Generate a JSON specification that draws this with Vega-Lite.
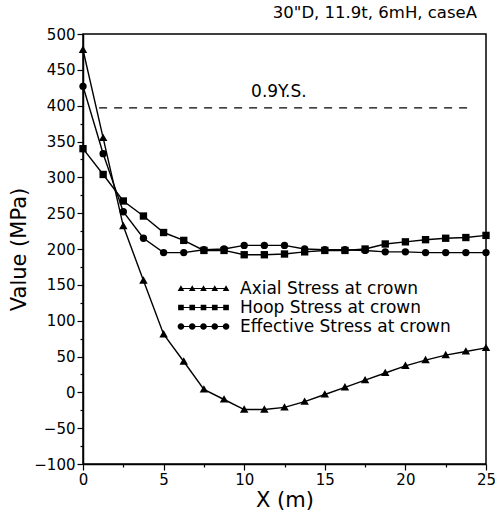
{
  "$schema": "https://vega.github.io/schema/vega-lite/v6.json",
  "width": 403,
  "height": 430,
  "autosize": {"type": "none"},
  "padding": {"left": 83, "top": 34, "right": 9, "bottom": 46},
  "background": "white",
  "config": {
    "view": {"stroke": "black", "strokeWidth": 1.5},
    "font": "DejaVu Sans",
    "title": {"dx": -9}
  },
  "title": {
    "text": "30\"D, 11.9t, 6mH, caseA",
    "anchor": "end",
    "frame": "group",
    "fontSize": 16.5,
    "fontWeight": "normal",
    "color": "black",
    "offset": 6,
    "dx": -9
  },
  "resolve": {"scale": {"shape": "independent"}},
  "datasets": {
    "main": [
      {"x": 0, "series": "Axial Stress at crown", "value": 478},
      {"x": 1.25, "series": "Axial Stress at crown", "value": 355},
      {"x": 2.5, "series": "Axial Stress at crown", "value": 232},
      {"x": 3.75, "series": "Axial Stress at crown", "value": 156},
      {"x": 5, "series": "Axial Stress at crown", "value": 81},
      {"x": 6.25, "series": "Axial Stress at crown", "value": 43},
      {"x": 7.5, "series": "Axial Stress at crown", "value": 4},
      {"x": 8.75, "series": "Axial Stress at crown", "value": -10},
      {"x": 10, "series": "Axial Stress at crown", "value": -24},
      {"x": 11.25, "series": "Axial Stress at crown", "value": -24},
      {"x": 12.5, "series": "Axial Stress at crown", "value": -21},
      {"x": 13.75, "series": "Axial Stress at crown", "value": -13},
      {"x": 15, "series": "Axial Stress at crown", "value": -3},
      {"x": 16.25, "series": "Axial Stress at crown", "value": 7},
      {"x": 17.5, "series": "Axial Stress at crown", "value": 17},
      {"x": 18.75, "series": "Axial Stress at crown", "value": 27},
      {"x": 20, "series": "Axial Stress at crown", "value": 37},
      {"x": 21.25, "series": "Axial Stress at crown", "value": 45},
      {"x": 22.5, "series": "Axial Stress at crown", "value": 52},
      {"x": 23.75, "series": "Axial Stress at crown", "value": 57},
      {"x": 25, "series": "Axial Stress at crown", "value": 62},
      {"x": 0, "series": "Hoop Stress at crown", "value": 340},
      {"x": 1.25, "series": "Hoop Stress at crown", "value": 304},
      {"x": 2.5, "series": "Hoop Stress at crown", "value": 267},
      {"x": 3.75, "series": "Hoop Stress at crown", "value": 246},
      {"x": 5, "series": "Hoop Stress at crown", "value": 223},
      {"x": 6.25, "series": "Hoop Stress at crown", "value": 212},
      {"x": 7.5, "series": "Hoop Stress at crown", "value": 198},
      {"x": 8.75, "series": "Hoop Stress at crown", "value": 198},
      {"x": 10, "series": "Hoop Stress at crown", "value": 192},
      {"x": 11.25, "series": "Hoop Stress at crown", "value": 192},
      {"x": 12.5, "series": "Hoop Stress at crown", "value": 193},
      {"x": 13.75, "series": "Hoop Stress at crown", "value": 196},
      {"x": 15, "series": "Hoop Stress at crown", "value": 198},
      {"x": 16.25, "series": "Hoop Stress at crown", "value": 198},
      {"x": 17.5, "series": "Hoop Stress at crown", "value": 200},
      {"x": 18.75, "series": "Hoop Stress at crown", "value": 207},
      {"x": 20, "series": "Hoop Stress at crown", "value": 210},
      {"x": 21.25, "series": "Hoop Stress at crown", "value": 213},
      {"x": 22.5, "series": "Hoop Stress at crown", "value": 215},
      {"x": 23.75, "series": "Hoop Stress at crown", "value": 216},
      {"x": 25, "series": "Hoop Stress at crown", "value": 219},
      {"x": 0, "series": "Effective Stress at crown", "value": 427},
      {"x": 1.25, "series": "Effective Stress at crown", "value": 333},
      {"x": 2.5, "series": "Effective Stress at crown", "value": 252},
      {"x": 3.75, "series": "Effective Stress at crown", "value": 215},
      {"x": 5, "series": "Effective Stress at crown", "value": 195},
      {"x": 6.25, "series": "Effective Stress at crown", "value": 195},
      {"x": 7.5, "series": "Effective Stress at crown", "value": 199},
      {"x": 8.75, "series": "Effective Stress at crown", "value": 200},
      {"x": 10, "series": "Effective Stress at crown", "value": 205},
      {"x": 11.25, "series": "Effective Stress at crown", "value": 205},
      {"x": 12.5, "series": "Effective Stress at crown", "value": 205},
      {"x": 13.75, "series": "Effective Stress at crown", "value": 200},
      {"x": 15, "series": "Effective Stress at crown", "value": 199},
      {"x": 16.25, "series": "Effective Stress at crown", "value": 199},
      {"x": 17.5, "series": "Effective Stress at crown", "value": 198},
      {"x": 18.75, "series": "Effective Stress at crown", "value": 196},
      {"x": 20, "series": "Effective Stress at crown", "value": 196},
      {"x": 21.25, "series": "Effective Stress at crown", "value": 195},
      {"x": 22.5, "series": "Effective Stress at crown", "value": 195},
      {"x": 23.75, "series": "Effective Stress at crown", "value": 195},
      {"x": 25, "series": "Effective Stress at crown", "value": 195}
    ],
    "limit": [{"x": 1, "x2": 24.2, "value": 397, "label": "0.9Y.S.", "lx": 12.15, "ly": 419}]
  },
  "encoding": {
    "x": {
      "field": "x",
      "type": "quantitative",
      "scale": {"domain": [0, 25], "nice": false, "zero": false},
      "axis": {
        "values": [0, 2.5, 5, 7.5, 10, 12.5, 15, 17.5, 20, 22.5, 25],
        "labelExpr": "datum.value % 5 === 0 ? datum.label : ''",
        "tickSize": {"condition": {"test": "datum.value % 5 === 0", "value": 6}, "value": 3},
        "labelFlush": false,
        "grid": false,
        "domainColor": "black",
        "domainWidth": 1.5,
        "tickColor": "black",
        "tickWidth": 1.2,
        "labelColor": "black",
        "labelFontSize": 15,
        "labelPadding": 2,
        "title": "X (m)",
        "titleColor": "black",
        "titleFontSize": 21,
        "titleFontWeight": "normal",
        "titlePadding": 2
      }
    },
    "y": {
      "field": "value",
      "type": "quantitative",
      "scale": {"domain": [-100, 500], "nice": false, "zero": false},
      "axis": {
        "values": [-100, -75, -50, -25, 0, 25, 50, 75, 100, 125, 150, 175, 200, 225, 250, 275, 300, 325, 350, 375, 400, 425, 450, 475, 500],
        "labelExpr": "datum.value % 50 === 0 ? datum.label : ''",
        "tickSize": {"condition": {"test": "datum.value % 50 === 0", "value": 6}, "value": 3},
        "grid": false,
        "domainColor": "black",
        "domainWidth": 1.5,
        "tickColor": "black",
        "tickWidth": 1.2,
        "labelColor": "black",
        "labelFontSize": 15,
        "labelPadding": 2,
        "title": "Value (MPa)",
        "titleColor": "black",
        "titleFontSize": 21,
        "titleFontWeight": "normal",
        "titlePadding": 4
      }
    }
  },
  "layer": [
    {
      "data": {"name": "main"},
      "mark": {"type": "line", "color": "black", "strokeWidth": 1.4},
      "encoding": {"detail": {"field": "series", "type": "nominal"}}
    },
    {
      "data": {"name": "main"},
      "mark": {"type": "point", "filled": true, "color": "black", "opacity": 1, "size": 54},
      "encoding": {
        "shape": {
          "field": "series",
          "type": "nominal",
          "scale": {
            "domain": ["Axial Stress at crown", "Hoop Stress at crown", "Effective Stress at crown"],
            "range": ["M-1.15,0.85L1.15,0.85L0,-1.15Z", "square", "circle"]
          },
          "legend": null
        }
      }
    },
    {
      "data": {"name": "main"},
      "transform": [{"filter": "datum.x < -1"}],
      "mark": {"type": "point", "filled": true, "color": "black", "opacity": 1, "size": 44},
      "encoding": {
        "shape": {
          "field": "series",
          "type": "nominal",
          "scale": {
            "domain": ["Axial Stress at crown", "Hoop Stress at crown", "Effective Stress at crown"],
            "range": [
              "M-6.8,-0.17v0.34h13.6v-0.34ZM-7.8,0.75L-5.8,0.75L-6.8,-1ZM-4.4,0.75L-2.4,0.75L-3.4,-1ZM-1,0.75L1,0.75L0,-1ZM2.4,0.75L4.4,0.75L3.4,-1ZM5.8,0.75L7.8,0.75L6.8,-1Z",
              "M-6.8,-0.17h13.6v0.34h-13.6ZM-7.65,-0.85h1.7v1.7h-1.7ZM-4.25,-0.85h1.7v1.7h-1.7ZM-0.85,-0.85h1.7v1.7h-1.7ZM2.55,-0.85h1.7v1.7h-1.7ZM5.95,-0.85h1.7v1.7h-1.7Z",
              "M-6.8,-0.17v0.34h13.6v-0.34ZM-7.8,0a1,1 0 1,0 2,0a1,1 0 1,0 -2,0ZM-4.4,0a1,1 0 1,0 2,0a1,1 0 1,0 -2,0ZM-1,0a1,1 0 1,0 2,0a1,1 0 1,0 -2,0ZM2.4,0a1,1 0 1,0 2,0a1,1 0 1,0 -2,0ZM5.8,0a1,1 0 1,0 2,0a1,1 0 1,0 -2,0Z"
            ]
          },
          "legend": {
            "title": null,
            "orient": "none",
            "legendX": 88,
            "legendY": 246,
            "symbolSize": 44,
            "symbolOffset": 24,
            "labelOffset": 28,
            "labelFontSize": 17,
            "labelLimit": 400,
            "labelColor": "black",
            "symbolOpacity": 1,
            "symbolFillColor": "black",
            "rowPadding": 1
          }
        }
      }
    },
    {
      "data": {"name": "limit"},
      "mark": {"type": "rule", "color": "black", "strokeWidth": 1.2, "strokeDash": [8, 7]},
      "encoding": {
        "x": {"field": "x", "type": "quantitative"},
        "x2": {"field": "x2"},
        "y": {"field": "value", "type": "quantitative"}
      }
    },
    {
      "data": {"name": "limit"},
      "mark": {"type": "text", "color": "black", "fontSize": 17, "align": "center", "baseline": "middle"},
      "encoding": {
        "x": {"field": "lx", "type": "quantitative"},
        "y": {"field": "ly", "type": "quantitative"},
        "text": {"field": "label"}
      }
    }
  ]
}
